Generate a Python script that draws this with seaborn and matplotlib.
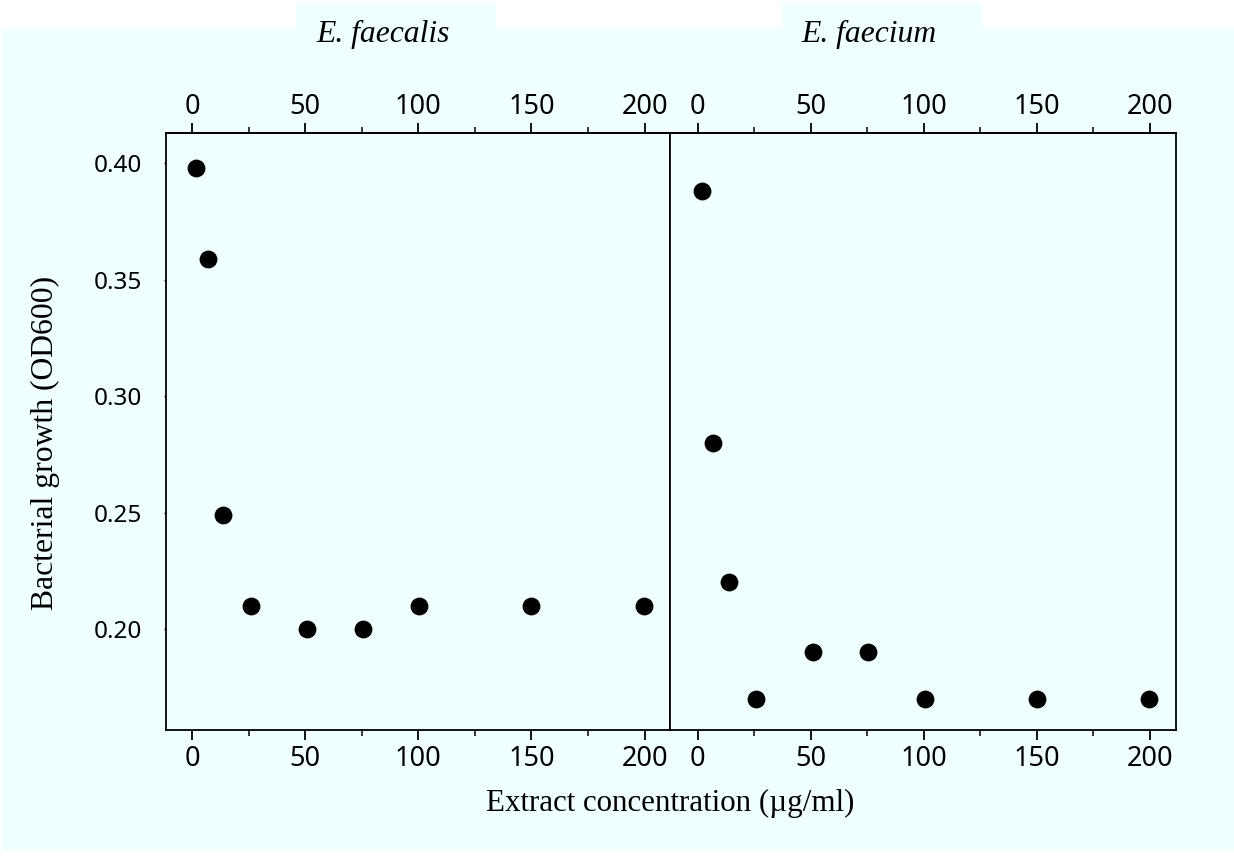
import numpy as np
import pandas as pd
import matplotlib
matplotlib.use("Agg")
import matplotlib.pyplot as plt
from matplotlib.patches import Rectangle
from matplotlib.ticker import FixedLocator
import seaborn as sns

# data
conc = [1.8, 7, 13.8, 26, 51, 75.5, 100.5, 150, 199.5]
faecalis_od = [0.398, 0.359, 0.249, 0.21, 0.20, 0.20, 0.21, 0.21, 0.21]
faecium_od = [0.388, 0.28, 0.22, 0.17, 0.19, 0.19, 0.17, 0.17, 0.17]
species = ["E. faecalis", "E. faecium"]
x_ticks = [0, 50, 100, 150, 200]
x_minor = [25, 75, 125, 175]
y_ticks = [0.20, 0.25, 0.30, 0.35, 0.40]

df = pd.DataFrame({
    "conc": conc * 2,
    "od": faecalis_od + faecium_od,
    "species": [species[0]] * len(conc) + [species[1]] * len(conc),
})

sns.set_style("ticks")
plt.rcParams["font.family"] = ["Noto Sans", "DejaVu Sans"]
plt.rcParams.update({"text.color": "black", "axes.labelcolor": "black",
                     "xtick.color": "black", "ytick.color": "black",
                     "axes.edgecolor": "black"})

W, H = 1234, 856
bg = "#F0FFFF"
fig = plt.figure(figsize=(W / 100, H / 100), dpi=100)
fig.patch.set_facecolor("white")

# cyan panel plus the little boxes behind the titles
fig.add_artist(Rectangle((2 / W, 1 - 851 / H), (W - 2) / W, (851 - 28) / H,
                         transform=fig.transFigure, color=bg, lw=0, zorder=-10))
for x0 in (296, 782):
    fig.add_artist(Rectangle((x0 / W, 1 - 28 / H), 200 / W, 26 / H,
                             transform=fig.transFigure, color=bg, lw=0, zorder=-10))

bottom = 1 - 730 / H
height = (730 - 133) / H
ax1 = fig.add_axes([166 / W, bottom, 504 / W, height])
ax2 = fig.add_axes([670 / W, bottom, 506 / W, height], sharey=ax1)

xlims = [(-11.5, 211.2), (-12.2, 211.5)]
for ax, sp, xl in zip([ax1, ax2], species, xlims):
    sub = df[df["species"] == sp]
    sns.scatterplot(data=sub, x="conc", y="od", ax=ax, color="black",
                    s=165, linewidth=0, marker="o", legend=False)
    ax.set_facecolor(bg)
    ax.set_xlim(*xl)
    ax.set_xlabel("")
    ax.set_ylabel("")
    ax.xaxis.set_major_locator(FixedLocator(x_ticks))
    ax.xaxis.set_minor_locator(FixedLocator(x_minor))
    ax.tick_params(axis="x", which="major", length=7.5, width=1.3, pad=3,
                   labelsize=19.5, top=False)
    ax.tick_params(axis="x", which="minor", length=4.5, width=1.1, top=False)
    for s in ax.spines.values():
        s.set_visible(True)
        s.set_linewidth(1.3)
    top = ax.secondary_xaxis("top")
    top.xaxis.set_major_locator(FixedLocator(x_ticks))
    top.xaxis.set_minor_locator(FixedLocator(x_minor))
    top.tick_params(axis="x", which="major", length=7.5, width=1.3, pad=1,
                    labelsize=19.5)
    top.tick_params(axis="x", which="minor", length=4.5, width=1.1)
    top.spines["top"].set_linewidth(1.3)

ax1.set_ylim(0.1567, 0.4129)
ax1.set_yticks(y_ticks)
ax1.set_yticklabels([f"{v:.2f}" for v in y_ticks])
ax1.tick_params(axis="y", length=1.5, width=1, pad=15.5, labelsize=17.5)
ax2.tick_params(axis="y", left=False, labelleft=False)

serif = ["Liberation Serif", "DejaVu Serif"]
fig.text(383 / W, 1 - 42 / H, species[0], family=serif, style="italic",
         fontsize=22.8, ha="center", va="baseline")
fig.text(869 / W, 1 - 42 / H, species[1], family=serif, style="italic",
         fontsize=22.8, ha="center", va="baseline")
fig.text(45 / W, 1 - 443 / H, "Bacterial growth (OD600)", family=serif,
         fontsize=22.8, rotation=90, ha="center", va="center")
fig.text(670 / W, 1 - 803 / H, "Extract concentration (µg/ml)", family=serif,
         fontsize=22.3, ha="center", va="center")

fig.savefig("out.png", dpi=100, facecolor=fig.get_facecolor())
